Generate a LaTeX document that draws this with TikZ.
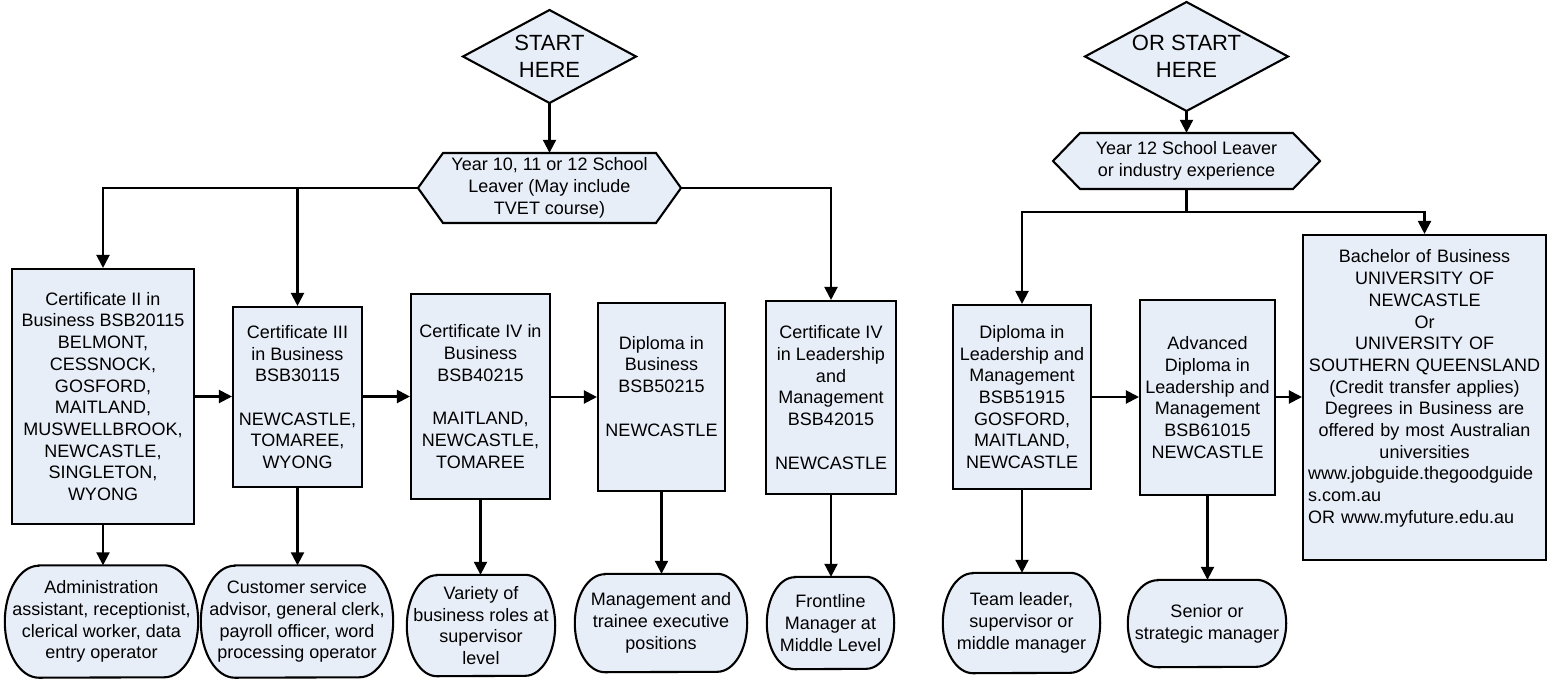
\documentclass[tikz,border=0pt]{standalone}
\usepackage{fontspec}
\setmainfont{Liberation Sans}
\usetikzlibrary{arrows.meta,backgrounds}
\definecolor{boxfill}{RGB}{232,238,248}
\newcommand\termoutline[3]{%
  \draw[termline] ([xshift=#2pt]#1.north west) -- ([xshift=-#2pt]#1.north east)
    arc[start angle=90, end angle=-90, x radius=#2pt, y radius=#3pt]
    -- ([xshift=#2pt]#1.south west)
    arc[start angle=270, end angle=90, x radius=#2pt, y radius=#3pt] -- cycle;}
\begin{document}
\begin{tikzpicture}[x=1pt,y=1pt,
  every node/.style={font=\fontsize{18}{21.7}\selectfont},
  box/.style={draw, fill=boxfill, line width=2.1pt, inner sep=0pt, align=center},
  term/.style={inner sep=0pt, align=center},
  termline/.style={draw, fill=boxfill, line width=2.1pt},
  shapelabel/.style={inner sep=0pt, align=center},
  startlabel/.style={shapelabel, font=\fontsize{22}{26.5}\selectfont},
  outline/.style={draw, fill=boxfill, line width=2.1pt, line join=miter},
  conn/.style={line width=2.1pt},
  arr/.style={conn, -{Triangle[length=13pt,width=13pt]}},
]
\useasboundingbox (0,0) rectangle (1547,-678);

% start diamonds
\draw[outline] (463,-56.5) -- (549.5,-10) -- (636,-56.5) -- (549.5,-103) -- cycle;
\node[startlabel, minimum width=173pt, minimum height=93pt] (d1) at (549.5,-56.5) {START\\HERE};
\draw[outline] (1085,-56.5) -- (1186.5,-2) -- (1288,-56.5) -- (1186.5,-111) -- cycle;
\node[startlabel, minimum width=203pt, minimum height=109pt] (d2) at (1186.5,-56.5) {OR START\\HERE};

% hexagons
\draw[outline] (418,-188) -- (443,-153) -- (656,-153) -- (681,-188) -- (656,-223) -- (443,-223) -- cycle;
\node[shapelabel, minimum width=263pt, minimum height=70pt] (hx1) at (549.5,-188) {Year 10, 11 or 12 School\\Leaver (May include\\TVET course)};
\draw[outline] (1053,-161) -- (1080,-133) -- (1293,-133) -- (1320,-161) -- (1293,-189) -- (1080,-189) -- cycle;
\node[shapelabel, minimum width=267pt, minimum height=56pt] (hx2) at (1186.5,-161) {Year 12 School Leaver\\or industry experience};

% qualification boxes
\node[box, minimum width=182pt, minimum height=255pt] (c2) at (103,-396.5) {Certificate II in\\Business BSB20115\\BELMONT,\\CESSNOCK,\\GOSFORD,\\MAITLAND,\\MUSWELLBROOK,\\NEWCASTLE,\\SINGLETON,\\WYONG};
\node[box, minimum width=129pt, minimum height=180pt] (c3) at (297.5,-397) {Certificate III\\in Business\\BSB30115\\\mbox{}\\NEWCASTLE,\\TOMAREE,\\WYONG};
\node[box, minimum width=139pt, minimum height=205pt] (c4) at (480.5,-396.5) {Certificate IV in\\Business\\BSB40215\\\mbox{}\\MAITLAND,\\NEWCASTLE,\\TOMAREE};
\node[box, minimum width=127pt, minimum height=188pt] (db) at (661.5,-397) {Diploma in\\Business\\BSB50215\\\mbox{}\\NEWCASTLE\\\mbox{}};
\node[box, minimum width=130pt, minimum height=193pt] (cl) at (831,-397.5) {Certificate IV\\in Leadership\\and\\Management\\BSB42015\\\mbox{}\\NEWCASTLE};
\node[box, minimum width=138pt, minimum height=184pt] (dl) at (1022,-397) {Diploma in\\Leadership and\\Management\\BSB51915\\GOSFORD,\\MAITLAND,\\NEWCASTLE};
\node[box, minimum width=135pt, minimum height=195pt] (ad) at (1207.5,-397.5) {Advanced\\Diploma in\\Leadership and\\Management\\BSB61015\\NEWCASTLE};
\node[box, minimum width=243pt, minimum height=325pt, text width=233pt, align=left] (ba) at (1424.5,-397.5) {\centering Bachelor of Business\\UNIVERSITY OF\\NEWCASTLE\\Or\\UNIVERSITY OF\\SOUTHERN QUEENSLAND\\(Credit transfer applies)\\Degrees in Business are\\offered by most Australian\\universities\par\raggedright www.jobguide.thegoodguide\\s.com.au\\OR www.myfuture.edu.au\\\mbox{}\par};

% outcome terminators
\node[term, minimum width=193pt, minimum height=112pt] (o1) at (101.5,-621.5) {Administration\\assistant, receptionist,\\clerical worker, data\\entry operator};
\node[term, minimum width=192pt, minimum height=112pt] (o2) at (297,-621.5) {Customer service\\advisor, general clerk,\\payroll officer, word\\processing operator};
\node[term, minimum width=148pt, minimum height=101pt] (o3) at (481,-625.5) {Variety of\\business roles at\\supervisor\\level};
\node[term, minimum width=172pt, minimum height=98pt] (o4) at (661,-623) {Management and\\trainee executive\\positions};
\node[term, minimum width=127pt, minimum height=92pt] (o5) at (830.5,-623) {Frontline\\Manager at\\Middle Level};
\node[term, minimum width=157pt, minimum height=100pt] (o6) at (1021.5,-623) {Team leader,\\supervisor or\\middle manager};
\node[term, minimum width=158pt, minimum height=87pt] (o7) at (1207,-623.5) {Senior or\\strategic manager};
\begin{scope}[on background layer]
  \termoutline{o1}{34}{56}
  \termoutline{o2}{34}{56}
  \termoutline{o3}{30}{50.5}
  \termoutline{o4}{30}{49}
  \termoutline{o5}{28}{46}
  \termoutline{o6}{30}{50}
  \termoutline{o7}{30}{43.5}
\end{scope}

% connectors from start
\draw[arr] (d1.south) -- (hx1.north);
\draw[arr] (hx1.west) -| (c2.north);
\draw[arr] (hx1.west) -| (c3.north);
\draw[arr] (hx1.east) -| (cl.north);
\draw[arr] (d2.south) -- (hx2.north);
\coordinate (j2) at (1186.5,-212);
\draw[conn] (hx2.south) -- (j2);
\draw[arr] (j2) -| (dl.north);
\draw[arr] (j2) -| (ba.north);

% progression arrows
\draw[arr] (c2.east |- 0,-396.5) -- (c3.west |- 0,-396.5);
\draw[arr] (c3.east |- 0,-396.5) -- (c4.west |- 0,-396.5);
\draw[arr] (c4.east |- 0,-397) -- (db.west |- 0,-397);
\draw[arr] (dl.east |- 0,-397) -- (ad.west |- 0,-397);
\draw[arr] (ad.east |- 0,-397) -- (ba.west |- 0,-397);

% outcome arrows
\draw[arr] (c2.south) -- (c2.south |- o1.north);
\draw[arr] (c3.south) -- (c3.south |- o2.north);
\draw[arr] (c4.south) -- (c4.south |- o3.north);
\draw[arr] (db.south) -- (db.south |- o4.north);
\draw[arr] (cl.south) -- (cl.south |- o5.north);
\draw[arr] (dl.south) -- (dl.south |- o6.north);
\draw[arr] (ad.south) -- (ad.south |- o7.north);
\end{tikzpicture}
\end{document}
